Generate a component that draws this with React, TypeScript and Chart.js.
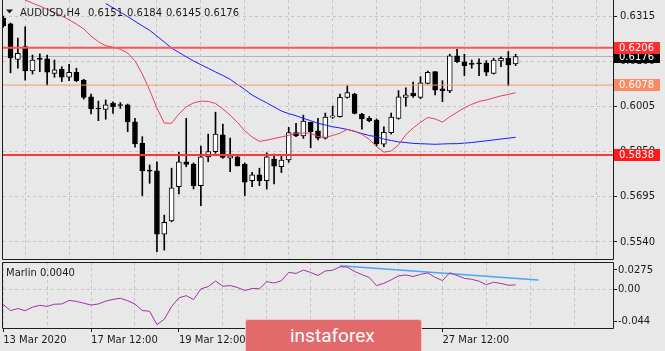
import React, { useEffect, useRef } from 'react';
import { Chart, registerables } from 'chart.js';

Chart.register(...registerables);

// ---------------- data ----------------
const symbol = 'AUDUSD,H4';

const opens = [
  0.6308, 0.6288, 0.6166, 0.6210, 0.6127, 0.6168, 0.6168, 0.6118, 0.6132, 0.6105,
  0.6122, 0.6095, 0.6038, 0.5998, 0.5995, 0.6016, 0.6010, 0.6010, 0.5952, 0.5878,
  0.5785, 0.5784, 0.5567, 0.5612, 0.5730, 0.5815, 0.5807, 0.5733, 0.5832, 0.5850,
  0.5907, 0.5827, 0.5832, 0.5807, 0.5750, 0.5770, 0.5750, 0.5824, 0.5798, 0.5821,
  0.5915, 0.5904, 0.5950, 0.5921, 0.5896, 0.5968, 0.5970, 0.6036, 0.6047, 0.5978,
  0.5964, 0.5958, 0.5875, 0.5915, 0.5964, 0.6036, 0.6050, 0.6036, 0.6084, 0.6124,
  0.6065, 0.6058, 0.6178, 0.6158, 0.6152, 0.6153, 0.6153, 0.6118, 0.6161, 0.6170,
  0.6151,
];
const highs = [
  0.6315, 0.6291, 0.6239, 0.6278, 0.6181, 0.6185, 0.6181, 0.6164, 0.6141, 0.6149,
  0.6136, 0.6098, 0.6047, 0.6023, 0.6027, 0.6021, 0.6018, 0.6013, 0.5964, 0.5901,
  0.5804, 0.5815, 0.5632, 0.5793, 0.5847, 0.5964, 0.5811, 0.5869, 0.5910, 0.5985,
  0.5944, 0.5896, 0.5833, 0.5811, 0.5779, 0.5793, 0.5846, 0.5841, 0.5836, 0.5933,
  0.5947, 0.5975, 0.5951, 0.5964, 0.5982, 0.6006, 0.6047, 0.6076, 0.6050, 0.5981,
  0.5970, 0.5962, 0.5935, 0.5982, 0.6059, 0.6069, 0.6088, 0.6107, 0.6126, 0.6124,
  0.6093, 0.6184, 0.6201, 0.6184, 0.6164, 0.6168, 0.6162, 0.6170, 0.6175, 0.6193,
  0.6184,
];
const lows = [
  0.6277, 0.6120, 0.6136, 0.6095, 0.6116, 0.6124, 0.6078, 0.6105, 0.6090, 0.6093,
  0.6090, 0.6030, 0.5979, 0.5956, 0.5961, 0.5981, 0.5998, 0.5918, 0.5865, 0.5699,
  0.5741, 0.5507, 0.5512, 0.5609, 0.5705, 0.5798, 0.5722, 0.5664, 0.5815, 0.5844,
  0.5827, 0.5781, 0.5800, 0.5699, 0.5730, 0.5733, 0.5721, 0.5739, 0.5778, 0.5813,
  0.5901, 0.5895, 0.5863, 0.5890, 0.5893, 0.5964, 0.5968, 0.6033, 0.5979, 0.5927,
  0.5952, 0.5869, 0.5867, 0.5910, 0.5961, 0.6006, 0.6036, 0.6031, 0.6082, 0.6044,
  0.6021, 0.6052, 0.6155, 0.6110, 0.6136, 0.6110, 0.6110, 0.6116, 0.6141, 0.6076,
  0.6145,
];
const closes = [
  0.6281, 0.6171, 0.6187, 0.6127, 0.6164, 0.6166, 0.6122, 0.6130, 0.6105, 0.6122,
  0.6093, 0.6036, 0.5997, 0.5996, 0.6010, 0.6004, 0.6008, 0.5952, 0.5876, 0.5784,
  0.5783, 0.5567, 0.5607, 0.5726, 0.5815, 0.5806, 0.5733, 0.5832, 0.5850, 0.5910,
  0.5830, 0.5835, 0.5801, 0.5745, 0.5770, 0.5750, 0.5832, 0.5800, 0.5821, 0.5915,
  0.5904, 0.5955, 0.5918, 0.5896, 0.5968, 0.5973, 0.6036, 0.6052, 0.5981, 0.5962,
  0.5956, 0.5876, 0.5916, 0.5968, 0.6038, 0.6045, 0.6041, 0.6086, 0.6122, 0.6061,
  0.6059, 0.6178, 0.6158, 0.6145, 0.6149, 0.6151, 0.6122, 0.6164, 0.6170, 0.6147,
  0.6176,
];

const redMAFirstBar = 3;
const redMA = [
  0.6370, 0.6359, 0.6349, 0.6338, 0.6327, 0.6315, 0.6302, 0.6287, 0.6271, 0.6246,
  0.6227, 0.6213, 0.6208, 0.6201, 0.6188, 0.6161, 0.6116, 0.6061, 0.5999, 0.5948,
  0.5947, 0.5979, 0.6003, 0.6017, 0.6023, 0.6022, 0.6015, 0.5996, 0.5975, 0.5950,
  0.5921, 0.5900, 0.5885, 0.5889, 0.5895, 0.5900, 0.5906, 0.5912, 0.5914, 0.5913,
  0.5901, 0.5899, 0.5905, 0.5913, 0.5926, 0.5920, 0.5909, 0.5892, 0.5867, 0.5848,
  0.5852, 0.5873, 0.5908, 0.5931, 0.5950, 0.5967, 0.5962, 0.5951, 0.5969, 0.5985,
  0.6000, 0.6012, 0.6022, 0.6027, 0.6034, 0.6041, 0.6046, 0.6052,
];

const blueMAFirstBar = 14;
const blueMA = [
  0.6358, 0.6343, 0.6328, 0.6313, 0.6297, 0.6281, 0.6266, 0.6246, 0.6226, 0.6205,
  0.6190, 0.6175, 0.6161, 0.6148, 0.6136, 0.6123, 0.6111, 0.6098, 0.6080, 0.6063,
  0.6044, 0.6030, 0.6017, 0.6003, 0.5989, 0.5980, 0.5973, 0.5964, 0.5956, 0.5947,
  0.5941, 0.5935, 0.5931, 0.5926, 0.5919, 0.5912, 0.5905, 0.5901, 0.5893, 0.5888,
  0.5883, 0.5881, 0.5878, 0.5877, 0.5876, 0.5875, 0.5876, 0.5877, 0.5877, 0.5879,
  0.5881, 0.5884, 0.5887, 0.5890, 0.5893, 0.5896, 0.5899,
];

const marlin = [
  -0.0205, -0.0289, -0.0260, -0.0291, -0.0241, -0.0216, -0.0231, -0.0201, -0.0197, -0.0147,
  -0.0161, -0.0187, -0.0212, -0.0197, -0.0158, -0.0133, -0.0118, -0.0152, -0.0198, -0.0288,
  -0.0299, -0.0484, -0.0410, -0.0234, -0.0112, -0.0082, -0.0136, 0.0012, 0.0044, 0.0121,
  0.0050, 0.0058, 0.0032, -0.0010, 0.0018, 0.0014, 0.0113, 0.0094, 0.0126, 0.0242,
  0.0227, 0.0274, 0.0240, 0.0198, 0.0261, 0.0272, 0.0319, 0.0316, 0.0254, 0.0211,
  0.0171, 0.0058, 0.0090, 0.0138, 0.0193, 0.0206, 0.0184, 0.0214, 0.0234, 0.0173,
  0.0128, 0.0238, 0.0199, 0.0159, 0.0145, 0.0120, 0.0070, 0.0104, 0.0088, 0.0063,
  0.0068,
];
const marlinLabelValue = 0.004;
const marlinTrendBars = [46.0, 73.1];
const marlinTrendValues = [0.0334, 0.0137];

const levelValues = [0.6206, 0.6078, 0.5838];
const priceTicks = [0.554, 0.5695, 0.585, 0.6005, 0.616, 0.6315];
const marlinTicks = [-0.044, 0, 0.0275];
const marlinTickLabels = ['-0.044', '0.00', '0.0275'];
const gridBars = [0, 6, 12, 18, 24, 30, 36, 42, 48, 54, 60, 66, 72, 78];
const dateTickBars = [0, 12, 24, 36, 48, 60];
const dateTickLabels = ['13 Mar 2020', '17 Mar 12:00', '19 Mar 12:00', '23 Mar 12:00', '25 Mar 12:00', '27 Mar 12:00'];

// ---------------- styles ----------------
const BG = '#e8e8e8';
const FONT = '"DejaVu Sans", sans-serif';
const TEXT = '#1a1a1a';
const GRID = '#c4c4c4';
const FRAME = '#1e1e1e';
const X_MIN = -0.03;
const X_MAX = 83.3;
const P_MIN = 0.54815;
const P_MAX = 0.63699;
const M_MIN = -0.0531;
const M_MAX = 0.0386;

function framePlugin(drawTop: boolean) {
  return {
    id: 'frame',
    afterDatasetsDraw(chart: any) {
      const { ctx, chartArea: a } = chart;
      const l = Math.round(a.left) - 0.5;
      const r = Math.round(a.right) + 0.5;
      const t = Math.round(a.top) + 0.5;
      const b = Math.round(a.bottom) + 0.5;
      ctx.save();
      ctx.strokeStyle = FRAME;
      ctx.lineWidth = 1;
      ctx.beginPath();
      ctx.moveTo(l, drawTop ? t : 0);
      ctx.lineTo(l, b);
      ctx.lineTo(r, b);
      ctx.lineTo(r, drawTop ? t : 0);
      if (drawTop) ctx.lineTo(l, t);
      ctx.stroke();
      ctx.restore();
    },
  };
}

export default function App() {
  const mainRef = useRef<HTMLCanvasElement>(null);
  const subRef = useRef<HTMLCanvasElement>(null);

  useEffect(() => {
    document.body.style.margin = '0';
    const n = closes.length;
    const last = n - 1;

    const wickData = closes.map((_, i) => ({ x: i, y: [lows[i], highs[i]] }));
    const bodyData = closes.map((c, i) => ({ x: i, y: [opens[i], c] }));
    const bodyColors = closes.map((c, i) => (c >= opens[i] ? '#ffffff' : '#000000'));
    const redData = redMA.map((v, k) => ({ x: redMAFirstBar + k, y: v }));
    const blueData = blueMA.map((v, k) => ({ x: blueMAFirstBar + k, y: v }));
    const hline = (v: number) => [{ x: X_MIN - 5, y: v }, { x: X_MAX + 5, y: v }];

    const hLineDs = (v: number, color: string, w: number, order: number) => ({
      type: 'line', data: hline(v), borderColor: color, borderWidth: w,
      pointRadius: 0, order, tension: 0,
    });

    const boxes = [
      { v: levelValues[1], fill: '#fa8a62' },
      { v: closes[last], fill: '#000000' },
      { v: levelValues[0], fill: '#ff2d2d' },
      { v: levelValues[2], fill: '#ff1a1a' },
    ];

    const labelsPlugin = {
      id: 'labels',
      afterDraw(chart: any) {
        const { ctx } = chart;
        const y = chart.scales.y;
        ctx.save();
        ctx.font = '10px ' + FONT;
        ctx.textBaseline = 'middle';
        ctx.textAlign = 'left';
        boxes.forEach((b) => {
          const py = Math.round(y.getPixelForValue(b.v));
          ctx.fillStyle = b.fill;
          ctx.fillRect(614, py - 6, 46, 12);
          ctx.fillStyle = '#ffffff';
          ctx.fillText(b.v.toFixed(4), 619, py + 0.5);
        });
        // header
        ctx.fillStyle = TEXT;
        ctx.beginPath();
        ctx.moveTo(6, 9.5);
        ctx.lineTo(13, 9.5);
        ctx.lineTo(9.5, 13.5);
        ctx.closePath();
        ctx.fill();
        ctx.textBaseline = 'alphabetic';
        ctx.fillText(symbol, 20, 16);
        const ohlc = [opens[last], highs[last], lows[last], closes[last]];
        const xs = [88, 127, 166, 204];
        ohlc.forEach((v, k) => ctx.fillText(v.toFixed(4), xs[k], 16));
        ctx.restore();
      },
    };

    const main = new Chart(mainRef.current as HTMLCanvasElement, {
      type: 'bar',
      data: {
        datasets: [
          hLineDs(closes[last], '#b4b4b4', 1, 9) as any,
          { type: 'bar', data: wickData as any, backgroundColor: '#000000', barThickness: 1, grouped: false, borderWidth: 0, order: 8 } as any,
          { type: 'bar', data: bodyData as any, backgroundColor: bodyColors, borderColor: '#000000', borderWidth: 1, borderSkipped: false, barThickness: 5, minBarLength: 1, grouped: false, order: 7 } as any,
          { type: 'line', data: redData, borderColor: '#e5405c', borderWidth: 1, pointRadius: 0, tension: 0, order: 4 } as any,
          { type: 'line', data: blueData, borderColor: '#1c1cff', borderWidth: 1, pointRadius: 0, tension: 0, order: 4 } as any,
          hLineDs(levelValues[0], '#ff5454', 2, 2) as any,
          hLineDs(levelValues[1], '#fb9470', 1, 2) as any,
          hLineDs(levelValues[2], '#ff3636', 2, 2) as any,
        ],
      },
      options: {
        responsive: false,
        animation: false,
        devicePixelRatio: 1,
        events: [],
        layout: { padding: { left: 3, top: 0, right: 0, bottom: 0 }, autoPadding: false } as any,
        plugins: { legend: { display: false }, tooltip: { enabled: false } },
        scales: {
          x: {
            type: 'linear', min: X_MIN, max: X_MAX, offset: false,
            afterBuildTicks: (s: any) => { s.ticks = gridBars.map((v) => ({ value: v })); },
            afterFit: (s: any) => { s.height = 1; s.paddingLeft = 0; s.paddingRight = 0; },
            ticks: { display: false },
            grid: { color: GRID, drawTicks: false, lineWidth: 1 },
            border: { display: false, dash: [3, 3] },
          } as any,
          y: {
            type: 'linear', position: 'right', min: P_MIN, max: P_MAX,
            afterBuildTicks: (s: any) => { s.ticks = priceTicks.map((v) => ({ value: v })); },
            afterFit: (s: any) => { s.width = 52; s.paddingTop = 0; s.paddingBottom = 0; },
            ticks: { callback: (v: any) => Number(v).toFixed(4), padding: 3, color: TEXT, font: { family: FONT, size: 10 }, autoSkip: false },
            grid: { color: GRID, tickColor: FRAME, tickLength: 4, drawTicks: true, tickBorderDash: [] },
            border: { display: false, dash: [3, 3] },
          } as any,
        },
      },
      plugins: [framePlugin(false), labelsPlugin],
    });

    const subLabelPlugin = {
      id: 'sublabel',
      afterDraw(chart: any) {
        const { ctx } = chart;
        ctx.save();
        ctx.font = '10px ' + FONT;
        ctx.fillStyle = TEXT;
        ctx.textBaseline = 'alphabetic';
        ctx.fillText('Marlin ' + marlinLabelValue.toFixed(4), 6, 15.5);
        ctx.restore();
      },
    };

    const dateLabel = (v: number) => {
      const k = dateTickBars.indexOf(v);
      return k >= 0 ? dateTickLabels[k] : '';
    };

    const sub = new Chart(subRef.current as HTMLCanvasElement, {
      type: 'line',
      data: {
        datasets: [
          { data: marlin.map((v, i) => ({ x: i, y: v })), borderColor: '#a232a8', borderWidth: 1, pointRadius: 0, tension: 0 } as any,
          { data: marlinTrendBars.map((b, k) => ({ x: b, y: marlinTrendValues[k] })), borderColor: '#4ea4f4', borderWidth: 1.5, pointRadius: 0, tension: 0 } as any,
        ],
      },
      options: {
        responsive: false,
        animation: false,
        devicePixelRatio: 1,
        events: [],
        layout: { padding: { left: 3, top: 2, right: 0, bottom: 0 }, autoPadding: false } as any,
        plugins: { legend: { display: false }, tooltip: { enabled: false } },
        scales: {
          x: {
            type: 'linear', min: X_MIN, max: X_MAX, offset: false,
            afterBuildTicks: (s: any) => { s.ticks = gridBars.map((v) => ({ value: v })); },
            afterFit: (s: any) => { s.height = 23; s.paddingLeft = 0; s.paddingRight = 0; },
            ticks: {
              callback: (v: any) => dateLabel(Number(v)), autoSkip: false, maxRotation: 0, minRotation: 0,
              align: 'start', padding: 2, color: TEXT, font: { family: FONT, size: 10 },
            },
            grid: {
              color: GRID, drawTicks: true, tickLength: 4, tickBorderDash: [],
              tickColor: (c: any) => (c.tick && dateTickBars.indexOf(c.tick.value) >= 0 ? FRAME : 'rgba(0,0,0,0)'),
            },
            border: { display: false, dash: [3, 3] },
          } as any,
          y: {
            type: 'linear', position: 'right', min: M_MIN, max: M_MAX,
            afterBuildTicks: (s: any) => { s.ticks = marlinTicks.map((v) => ({ value: v })); },
            afterFit: (s: any) => { s.width = 52; s.paddingTop = 0; s.paddingBottom = 0; },
            ticks: {
              callback: (v: any) => { const k = marlinTicks.indexOf(Number(v)); return k >= 0 ? marlinTickLabels[k] : ''; },
              padding: 1, color: TEXT, font: { family: FONT, size: 10 }, autoSkip: false,
            },
            grid: {
              color: (c: any) => (c.tick && c.tick.value === 0 ? GRID : 'rgba(0,0,0,0)'),
              tickColor: FRAME, tickLength: 4, drawTicks: true, tickBorderDash: [],
            },
            border: { display: false, dash: [3, 3] },
          } as any,
        },
      },
      plugins: [framePlugin(true), subLabelPlugin],
    });

    return () => {
      main.destroy();
      sub.destroy();
    };
  }, []);

  return (
    <div style={{ position: 'relative', width: 665, height: 351, overflow: 'hidden', background: BG }}>
      <canvas ref={mainRef} width={665} height={260} style={{ position: 'absolute', left: 0, top: 0, width: 665, height: 260 }} />
      <canvas ref={subRef} width={665} height={91} style={{ position: 'absolute', left: 0, top: 260, width: 665, height: 91 }} />
      <div
        style={{
          position: 'absolute', left: 245, top: 319, width: 177, height: 40,
          background: '#e36a6a', border: '1px solid #f3c4c4', borderRadius: 3, boxSizing: 'border-box',
        }}
      >
        <span
          style={{
            position: 'absolute', left: 44, top: 4.4, color: '#ffffff', fontFamily: 'Roboto, sans-serif',
            fontSize: 19, lineHeight: 'normal', whiteSpace: 'nowrap',
          }}
        >
          instaforex
        </span>
      </div>
    </div>
  );
}
